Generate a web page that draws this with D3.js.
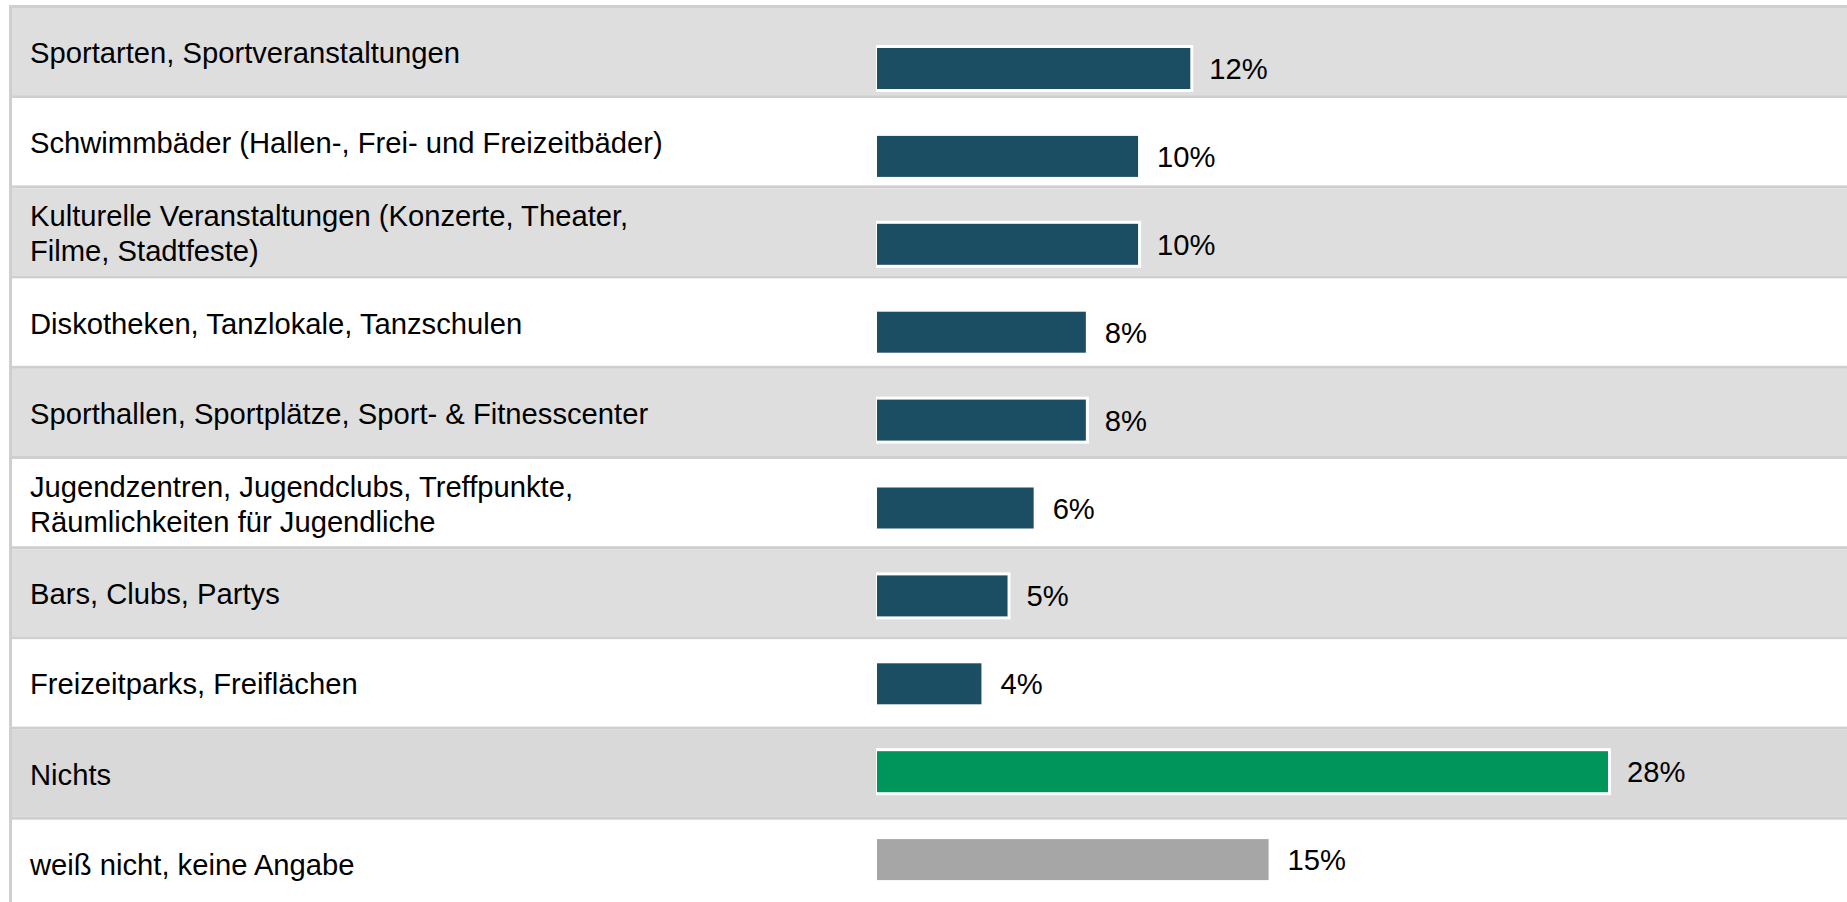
<!DOCTYPE html>
<html lang="de">
<head>
    <meta charset="UTF-8">
    <title>Freizeitangebote</title>
    <style>
        body { margin: 0; background: #fff; }
        svg { display: block; }
        .label, .value {
            font-family: "Liberation Sans", Arial, sans-serif;
            font-size: 29.2px;
            fill: #000;
        }
    </style>
    <script src="https://d3js.org/d3.v7.min.js"></script>
</head>
<body>
    <svg id="chart"></svg>

    <script>
        const categories = [
            "Sportarten, Sportveranstaltungen",
            "Schwimmbäder (Hallen-, Frei- und Freizeitbäder)",
            "Kulturelle Veranstaltungen (Konzerte, Theater, Filme, Stadtfeste)",
            "Diskotheken, Tanzlokale, Tanzschulen",
            "Sporthallen, Sportplätze, Sport- & Fitnesscenter",
            "Jugendzentren, Jugendclubs, Treffpunkte, Räumlichkeiten für Jugendliche",
            "Bars, Clubs, Partys",
            "Freizeitparks, Freiflächen",
            "Nichts",
            "weiß nicht, keine Angabe"
        ];
        const values = [12, 10, 10, 8, 8, 6, 5, 4, 28, 15];
        const valueLabels = ["12%", "10%", "10%", "8%", "8%", "6%", "5%", "4%", "28%", "15%"];

        const width = 1847;
        const height = 902;
        const rowPitch = 90.2;
        const sepH = 3;
        const tableTop = 8;

        const svg = d3.select("#chart")
            .attr("width", width)
            .attr("height", height);

        // table rows
        const y = d3.scaleBand()
            .domain(categories)
            .range([tableTop, tableTop + rowPitch * categories.length])
            .padding(0);

        // bars sit on their own, slightly tighter grid
        const barPitch = 87.9;
        const barH = 41;
        const yBar = d3.scaleBand()
            .domain(categories)
            .range([48, 48 + barPitch * categories.length])
            .padding(0);

        const x = d3.scaleLinear()
            .domain([0, 28])
            .range([877, 1608]);

        const color = d3.scaleOrdinal()
            .domain(["Nichts", "weiß nicht, keine Angabe"])
            .range(["#00955b", "#a6a6a6"])
            .unknown("#1b4d63");

        // top frame line
        svg.append("rect")
            .attr("x", 9).attr("y", 5)
            .attr("width", width).attr("height", 3)
            .attr("fill", "#cfcfcf");

        const rows = svg.selectAll(".row")
            .data(categories)
            .enter().append("g")
            .attr("class", "row")
            .attr("transform", d => `translate(0,${y(d)})`);

        rows.append("rect")
            .attr("x", 12)
            .attr("width", width)
            .attr("height", y.bandwidth() - sepH)
            .attr("fill", (d, i) => i % 2 === 0 ? (d === "Nichts" ? "#d9d9d9" : "#dedede") : "#ffffff");

        rows.append("rect")
            .attr("x", 9)
            .attr("y", y.bandwidth() - sepH)
            .attr("width", width)
            .attr("height", sepH)
            .attr("fill", "#cfcfcf");

        // left frame line
        svg.append("rect")
            .attr("x", 9).attr("y", 5)
            .attr("width", 3).attr("height", height)
            .attr("fill", "#cfcfcf");

        // category labels, wrapped
        const maxW = 660;
        const lineH = 35;
        rows.each(function (d) {
            const g = d3.select(this);
            const t = g.append("text").attr("class", "label").attr("x", 30);
            const words = d.split(" ");
            const lines = [];
            let cur = [];
            const probe = t.append("tspan");
            words.forEach(w => {
                cur.push(w);
                probe.text(cur.join(" "));
                if (probe.node().getComputedTextLength() > maxW && cur.length > 1) {
                    cur.pop();
                    lines.push(cur.join(" "));
                    cur = [w];
                }
            });
            lines.push(cur.join(" "));
            probe.remove();
            const mid = (y.bandwidth() - sepH) / 2 + 11.5;
            lines.forEach((ln, k) => {
                t.append("tspan")
                    .attr("x", 30)
                    .attr("y", mid + (k - (lines.length - 1) / 2) * lineH)
                    .text(ln);
            });
        });

        // bars
        const bars = svg.selectAll(".barg")
            .data(categories)
            .enter().append("g")
            .attr("class", "barg")
            .attr("transform", d => `translate(0,${yBar(d)})`);

        bars.append("rect")
            .attr("x", x(0) - 1)
            .attr("y", -3)
            .attr("width", (d, i) => x(values[i]) - x(0) + 4)
            .attr("height", barH + 6)
            .attr("fill", "#ffffff");

        bars.append("rect")
            .attr("class", "bar")
            .attr("x", x(0))
            .attr("y", 0)
            .attr("width", (d, i) => x(values[i]) - x(0))
            .attr("height", barH)
            .attr("fill", d => color(d));

        bars.append("text")
            .attr("class", "value")
            .attr("x", (d, i) => x(values[i]) + 19)
            .attr("y", barH / 2 + 10.5)
            .text((d, i) => valueLabels[i]);
    </script>
</body>
</html>
